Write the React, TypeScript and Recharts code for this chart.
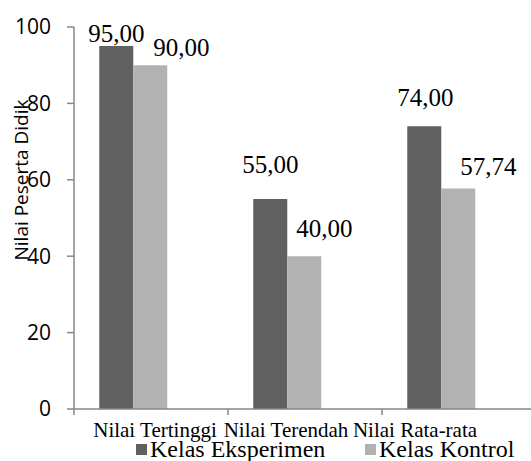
import React from "react";
import {
  Bar,
  BarChart,
  LabelList,
  Legend,
  XAxis,
  YAxis,
} from "recharts";

const categories = ["Nilai Tertinggi", "Nilai Terendah", "Nilai Rata-rata"];
const eksperimen = [95, 55, 74];
const kontrol = [90, 40, 57.74];
const yTicks = [0, 20, 40, 60, 80, 100];

const DARK = "#606060";
const LIGHT = "#b2b2b2";
const AXIS = "#878787";
const SERIF = "'Liberation Serif', 'Times New Roman', serif";
const SANS = "'Open Sans', 'Liberation Sans', sans-serif";

// The value labels were hand-nudged in the source chart; keep the nudges here.
const darkLabelShift = [
  { dx: 0, dy: 4 },
  { dx: 0, dy: 26 },
  { dx: 1, dy: 20 },
];
const lightLabelShift = [
  { dx: 31, dy: 9 },
  { dx: 20, dy: 19 },
  { dx: 30, dy: 13 },
];
// Category labels are squeezed together in the source.
const tickShift = [4, -19, -44];
const HALF_BAND = 77;

const rows = categories.map((name, i) => ({
  name,
  eksperimen: eksperimen[i],
  kontrol: kontrol[i],
}));

const fmt = (v: number) => v.toFixed(2).replace(".", ",");

function valueLabel(shift: { dx: number; dy: number }[]) {
  return (props: any) => {
    const { x, y, width, value, index } = props;
    const s = shift[index] ?? { dx: 0, dy: 4 };
    return (
      <text
        x={x + width / 2 + s.dx}
        y={y - s.dy}
        textAnchor="middle"
        fontFamily={SERIF}
        fontSize={25}
        fill="#000"
      >
        {fmt(value)}
      </text>
    );
  };
}

function CategoryTick(props: any) {
  const { x, y, payload, index } = props;
  const axisY = y - 8;
  return (
    <g>
      <line
        x1={x - HALF_BAND}
        x2={x - HALF_BAND}
        y1={axisY}
        y2={axisY + 6}
        stroke={AXIS}
        strokeWidth={1.5}
      />
      <text
        x={x + (tickShift[index] ?? 0)}
        y={axisY + 28}
        textAnchor="middle"
        fontFamily={SERIF}
        fontSize={21}
        fill="#000"
      >
        {payload.value}
      </text>
    </g>
  );
}

function LegendBox() {
  const item = (left: number, color: string, text: string) => (
    <div
      style={{
        position: "absolute",
        left,
        top: 0,
        display: "flex",
        alignItems: "center",
        whiteSpace: "nowrap",
      }}
    >
      <span
        style={{ width: 11, height: 11, background: color, marginRight: 3 }}
      />
      <span
        style={{
          fontFamily: SERIF,
          fontSize: 24,
          color: "#000",
          lineHeight: "26px",
        }}
      >
        {text}
      </span>
    </div>
  );
  return (
    <div style={{ position: "relative", height: 28 }}>
      {item(136, DARK, "Kelas Eksperimen")}
      {item(365, LIGHT, "Kelas Kontrol")}
    </div>
  );
}

export default function App() {
  return (
    <div
      style={{
        position: "fixed",
        left: 0,
        top: 0,
        width: 531,
        height: 461,
        overflow: "hidden",
        background: "#fff",
      }}
    >
      <BarChart
        width={545}
        height={461}
        data={rows}
        margin={{ top: 27, right: 9, bottom: 0, left: 0 }}
        barCategoryGap="16.4%"
        barGap={0}
      >
        <XAxis
          dataKey="name"
          height={52}
          stroke={AXIS}
          strokeWidth={1.5}
          tickLine={false}
          tickSize={6}
          tickMargin={2}
          interval={0}
          tick={<CategoryTick />}
        />
        <YAxis
          width={74}
          domain={[0, 100]}
          ticks={yTicks}
          stroke={AXIS}
          strokeWidth={1.5}
          tickSize={7}
          tickMargin={16}
          tick={{ fontFamily: SANS, fontSize: 21, fill: "#000" }}
          label={{
            content: (p: any) => {
              const vb = p.viewBox;
              const cx = vb.x + 21;
              const cy = vb.y + vb.height / 2 - 38;
              return (
                <text
                  x={cx}
                  y={cy}
                  transform={`rotate(-90 ${cx} ${cy})`}
                  textAnchor="middle"
                  dominantBaseline="central"
                  fontFamily={SANS}
                  fontSize={19}
                  fill="#000"
                >
                  Nilai Peserta Didik
                </text>
              );
            },
          }}
        />
        <Legend
          layout="horizontal"
          verticalAlign="middle"
          align="center"
          wrapperStyle={{ top: 436, left: 0, width: 545 }}
          content={<LegendBox />}
        />
        <Bar dataKey="eksperimen" fill={DARK} isAnimationActive={false}>
          <LabelList dataKey="eksperimen" content={valueLabel(darkLabelShift)} />
        </Bar>
        <Bar dataKey="kontrol" fill={LIGHT} isAnimationActive={false}>
          <LabelList dataKey="kontrol" content={valueLabel(lightLabelShift)} />
        </Bar>
        {/* empty third slot: the source keeps room for a hidden series */}
        <Bar
          dataKey={() => 0}
          fill="transparent"
          legendType="none"
          isAnimationActive={false}
        />
      </BarChart>
    </div>
  );
}
